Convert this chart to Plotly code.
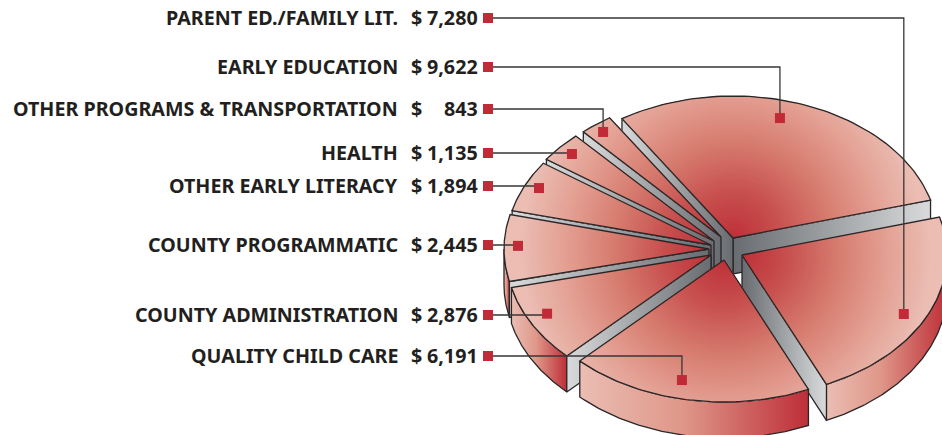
import numpy as np
import plotly.graph_objects as go

# ---- data (top-to-bottom order of the labels) ----
categories = ["PARENT ED./FAMILY LIT.", "EARLY EDUCATION", "OTHER PROGRAMS & TRANSPORTATION",
              "HEALTH", "OTHER EARLY LITERACY", "COUNTY PROGRAMMATIC",
              "COUNTY ADMINISTRATION", "QUALITY CHILD CARE"]
values = [7280, 9622, 843, 1135, 1894, 2445, 2876, 6191]

# ---- chart geometry ----
W, H = 942, 435
A, B = 205.0, 142.0        # ellipse semi axes
T = 36.0                   # pie thickness
START = 15.5               # angle where the first slice begins
slice_order = [1, 2, 3, 4, 5, 6, 7, 0]  # counter-clockwise from EARLY EDUCATION
apex = {1: (733, 238), 2: (721, 237), 3: (714, 241), 4: (711, 245),
        5: (709, 249), 6: (711, 255), 7: (724, 260), 0: (742, 255)}
draw_order = [1, 2, 3, 4, 5, 6, 0, 7]
label_y = [18, 67, 109, 153, 186, 245, 315, 356]
anchor = {0: (.467, .892), 1: (.553, .875), 2: (.54, .937), 3: (.5, .925),
          4: (.455, .93), 5: (.465, .932), 6: (.44, .90), 7: (.45, .87)}
RED = "#C12A37"
INK = "#231F20"
EDGE = "#2A2627"
RADIAL = [(0, "#BE3038"), (.25, "#C8504F"), (.5, "#D67A6E"), (.75, "#E39E90"), (1, "#EBBDB3")]


def rgb(h):
    return np.array([int(h[i:i + 2], 16) for i in (1, 3, 5)], float)


def mix(t):
    for (a, ca), (b, cb) in zip(RADIAL, RADIAL[1:]):
        if t <= b:
            c = rgb(ca) + (rgb(cb) - rgb(ca)) * (t - a) / (b - a)
            return "rgb(%d,%d,%d)" % tuple(c)
    return RADIAL[-1][1]


total = sum(values)
spans = {}
ang = START
for i in slice_order:
    spans[i] = (ang, ang + values[i] / total * 360)
    ang = spans[i][1]


def on_arc(i, deg):
    t = np.radians(deg)
    return apex[i][0] + A * np.cos(t), apex[i][1] - B * np.sin(t)


fig = go.Figure()


def poly(xs, ys, **kw):
    fig.add_trace(go.Scatter(x=list(xs), y=list(ys), hoverinfo="skip", showlegend=False, **kw))


def side_wall(i, deg):
    ax, ay = apex[i]
    ox, oy = on_arc(i, deg)
    dark, light = "#686C70", "#D8DADB"
    scale = [[0, dark], [1, light]] if ox > ax else [[0, light], [1, dark]]
    poly([ax, ox, ox, ax, ax], [ay, oy, oy + T, ay + T, ay], mode="lines", fill="toself",
         line=dict(color=EDGE, width=1.3),
         fillgradient=dict(type="horizontal", colorscale=scale, start=min(ax, ox), stop=max(ax, ox)))


def arc_wall(i, s, e):
    # only the part of the rim that faces the viewer (below the ellipse centre)
    lo, hi = max(s, 180), min(e, 360)
    if lo >= hi:
        return
    d = np.linspace(lo, hi, 80)
    xs, ys = on_arc(i, d)
    px = np.r_[xs, xs[::-1], xs[0]]
    py = np.r_[ys, ys[::-1] + T, ys[0]]
    scale = [[0, "#EBBDB3"], [.45, "#DF9789"], [1, "#BE2F38"]]
    poly(px, py, mode="lines", fill="toself", line=dict(color=EDGE, width=1.3),
         fillgradient=dict(type="horizontal", colorscale=scale, start=float(xs.min()), stop=float(xs.max())))


for i in draw_order:
    s, e = spans[i]
    ax, ay = apex[i]
    arc_wall(i, s, e)
    if np.cos(np.radians(s)) > 0:
        side_wall(i, s)
    if np.cos(np.radians(e)) < 0:
        side_wall(i, e)
    # the top: nested sectors from the outside in give a gradient around the apex
    d = np.linspace(s, e, 70)
    xs, ys = on_arc(i, d)
    dist = np.hypot(xs - ax, ys - ay)
    RMAX = 190.0
    steps = 70
    for k in range(steps, 0, -1):
        R = RMAX * k / steps
        if k == steps:
            R = 400
        f = np.minimum(1, R / dist)
        poly(np.r_[ax, ax + (xs - ax) * f, ax], np.r_[ay, ay + (ys - ay) * f, ay], mode="lines", fill="toself",
             fillcolor=mix(k / steps), line=dict(width=0))
    poly(np.r_[ax, xs, ax], np.r_[ay, ys, ay], mode="lines", line=dict(color=EDGE, width=1.3))

# leaders and square markers
for row, (name, v) in enumerate(zip(categories, values)):
    y0 = label_y[row]
    frac, r = anchor[row]
    s, e = spans[row]
    t = np.radians(s + frac * (e - s))
    ax, ay = apex[row]
    mx, my = ax + r * A * np.cos(t), ay - r * B * np.sin(t)
    poly([488, mx, mx], [y0, y0, my], mode="lines", line=dict(color="#3A3637", width=1.3))
    poly([488, mx], [y0, my], mode="markers", marker=dict(symbol="square", size=10, color=RED, line=dict(width=0)))

ann = []
font = dict(family="Noto Sans", size=19.7, color=INK, weight="bold")
for name, v, y in zip(categories, values, label_y):
    ty = y - 1
    ann.append(dict(x=400, y=ty, text=name, xanchor="right", yanchor="middle", showarrow=False, font=font))
    ann.append(dict(x=409, y=ty, text="$", xanchor="left", yanchor="middle", showarrow=False, font=font))
    ann.append(dict(x=480, y=ty, text=f"{v:,}", xanchor="right", yanchor="middle", showarrow=False, font=font))

fig.update_layout(
    width=W, height=H, autosize=False, margin=dict(l=0, r=0, t=0, b=0),
    paper_bgcolor="white", plot_bgcolor="white", showlegend=False, annotations=ann,
    xaxis=dict(range=[0, W], visible=False, fixedrange=True),
    yaxis=dict(range=[H, 0], visible=False, fixedrange=True),
)
fig.write_html("out.html", config=dict(displayModeBar=False),
               post_script="document.body.style.margin='0';document.body.style.overflow='hidden';")
